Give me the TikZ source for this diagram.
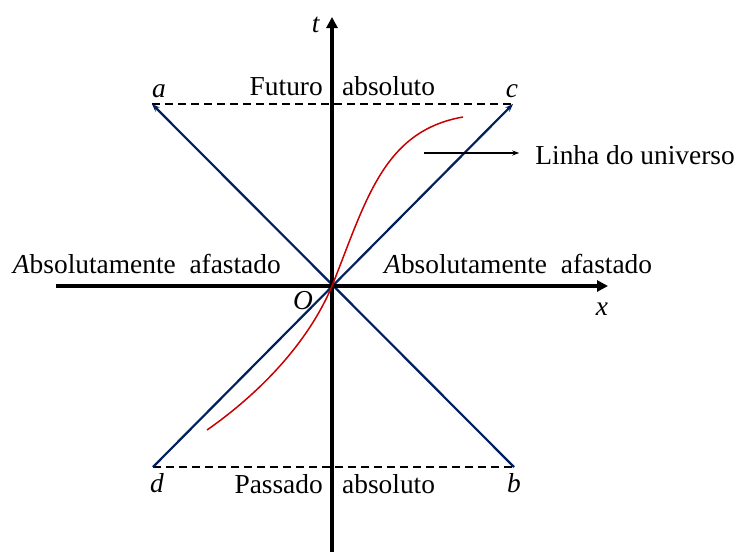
\documentclass[tikz,border=0pt]{standalone}
\usepackage{fontspec}
\setmainfont{Liberation Serif}
\usepackage{xcolor}
\usetikzlibrary{arrows.meta, positioning, calc}

\definecolor{coneblue}{RGB}{0,32,96}
\definecolor{worldred}{RGB}{200,0,0}

\begin{document}
\begin{tikzpicture}[
          x=1pt, y=-1pt,
          axis/.style={line width=3.2pt, -{Triangle[length=11pt, width=11pt]}},
          cone/.style={coneblue, line width=2.2pt, -{Stealth[length=8pt, width=6pt]}},
          rim/.style={line width=2pt, dash pattern=on 8pt off 5pt},
          world/.style={worldred, line width=1.5pt},
          lbl/.style={inner sep=0pt, font=\fontsize{27.4}{32}\selectfont}
        ]
          \useasboundingbox (0,0) rectangle (738,552);
          % light cone corners and origin
          \coordinate (O) at (332,286);
          \coordinate (a) at (152,104);
          \coordinate (c) at (513,104);
          \coordinate (d) at (153,467);
          \coordinate (b) at (514,467);
          \coordinate (xl) at (56,286);
          \coordinate (xr) at (608,286);
          \coordinate (tb) at (332,552);
          \coordinate (tt) at (332,17);
          \coordinate (ws) at (207,430);
          \coordinate (we) at (463,117);
          \coordinate (wl) at (424,153);

          \draw[rim] (a) -- (c);
          \draw[rim] (d) -- (b);
          \draw[cone] (d) -- (c);
          \draw[cone] (b) -- (a);
          \draw[axis] (xl) -- (xr);
          \draw[axis] (tb) -- (tt);
          \draw[world] (ws) .. controls (250,400) and (305,350) .. (O)
            .. controls (366,201) and (383,131) .. (we);

          \node[lbl, anchor=base] (la) at (159,97) {\textit{a}};
          \node[lbl, anchor=base] (lc) at (512,97) {\textit{c}};
          \node[lbl, anchor=base] (ld) at (157,492) {\textit{d}};
          \node[lbl, anchor=base] (lb) at (514,492) {\textit{b}};
          \node[lbl, anchor=base] (lt) at (316,32) {\textit{t}};
          \node[lbl, anchor=base] (lx) at (602,315) {\textit{x}};
          \node[lbl, anchor=base] (lO) at (303,309) {\textit{O}};

          \node[lbl, anchor=base east] (fut) at (323,95) {Futuro};
          \node[lbl, anchor=base west] (futabs) at (342,95) {absoluto};
          \node[lbl, anchor=base east] (pas) at (323,493) {Passado};
          \node[lbl, anchor=base west] (pasabs) at (342,493) {absoluto};
          \node[lbl, anchor=base east] (afl) at (281,273) {\textit{A}bsolutamente\ \ afastado};
          \node[lbl, anchor=base west] (afr) at (384,273) {\textit{A}bsolutamente\ \ afastado};
          \node[lbl, anchor=base east] (linha) at (735,164) {Linha do universo};

          \draw[line width=1.4pt, -{Stealth[length=7pt, width=5pt]}, shorten >=16pt] (wl) -- (wl -| linha.west);
        \end{tikzpicture}
\end{document}
